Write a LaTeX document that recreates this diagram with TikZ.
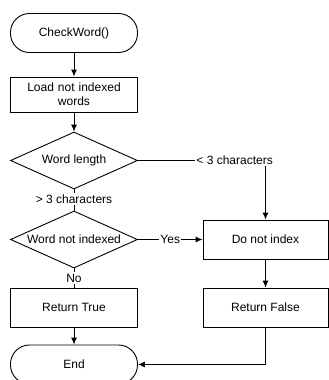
\documentclass[tikz,border=0pt]{standalone}
\usepackage{fontspec}
\setmainfont{Liberation Sans}
\usepackage{tikz}
\usetikzlibrary{shapes.geometric, arrows.meta}
\tikzstyle{block} = [rectangle, draw, fill=white, minimum width=127pt,
                 minimum height=39pt, font=\fontsize{12}{14}\selectfont]
\tikzset{
	terminal/.style={block, rounded corners=19pt},
	decision/.style={diamond, draw, fill=white, aspect=2.2, inner sep=0pt,
		minimum width=127pt, minimum height=57pt, font=\fontsize{12}{14}\selectfont},
	branch/.style={fill=white, inner sep=1pt, font=\fontsize{12}{14}\selectfont},
	flow/.style={-{Latex[length=7pt,width=6pt]}},
}

\begin{document}
\begin{tikzpicture}[x=1pt, y=-1pt, line width=0.9pt]
\useasboundingbox (0,0) rectangle (329,380);

% left column
\node [terminal] at (74,33) (start) {CheckWord()};
\node [block, minimum height=35pt, text width=110pt, align=center] at (74,94.5) (load)
	{Load not indexed\\words};
\node [decision] at (74,160.5) (length) {Word length};
\node [decision] at (74,239.5) (notidx) {Word not indexed};
\node [block] at (74,307.5) (rtrue) {Return True};
\node [terminal] at (74,364.5) (end) {End};

% right column
\node [block, minimum width=125pt] at (265.5,239.5) (dont) {Do not index};
\node [block, minimum width=125pt] at (265.5,307.5) (rfalse) {Return False};

% branch texts
\node [branch] at (74,199) (gt) {> 3 characters};
\node [branch, anchor=west] at (195,160.5) (lt) {< 3 characters};
\node [branch] at (74,278) (no) {No};

\draw [flow] (start) -- (load);
\draw [flow] (load) -- (length);
\draw (length.south) -- (gt);
\draw (gt) -- (notidx.north);
\draw (length.east) -- (lt.west);
\draw [flow] (lt.south -| dont.north) -- (dont.north);
\draw [flow] (notidx.east) -- node [branch] (yes) {Yes} (dont.west);
\draw (notidx.south) -- (no);
\draw (no) -- (rtrue.north);
\draw [flow] (dont) -- (rfalse);
\draw [flow] (rtrue) -- (end);
\draw [flow] (rfalse.south) |- (end.east);

\end{tikzpicture}
\end{document}
